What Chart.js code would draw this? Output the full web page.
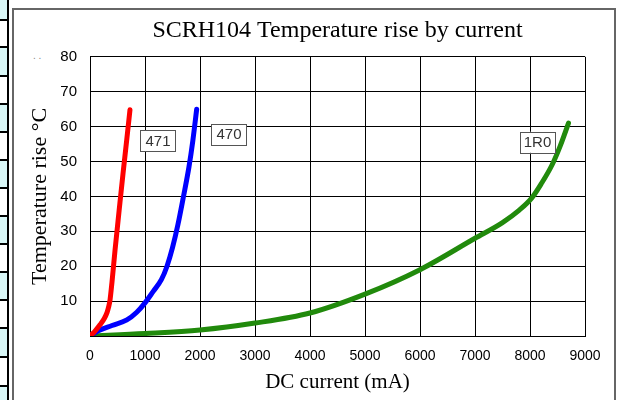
<!DOCTYPE html>
<html>
<head>
<meta charset="utf-8">
<script src="https://cdn.jsdelivr.net/npm/chart.js@4/dist/chart.umd.min.js"></script>
<style>
  html, body { margin: 0; padding: 0; background: #fff; }
  #wrap { position: relative; width: 621px; height: 400px; overflow: hidden; }
  #strip { position: absolute; left: 0; top: 0; width: 7px; height: 400px; border-right: 2px solid #000; }
  .cell { position: absolute; left: 0; width: 7px; border-bottom: 2px solid #000; }
  #frame { position: absolute; left: 12px; top: 8px; width: 600px; height: 420px; border: 2px solid #666; }
  #dots { position: absolute; left: 33px; top: 50px; font: 10px "Liberation Sans", Arial, sans-serif; color: #888; }
  canvas { position: absolute; left: 0; top: 0; }
</style>
</head>
<body>
<div id="wrap">
  <div id="strip"></div>
  <div id="frame"></div>
  <div id="dots">. .</div>
  <canvas id="chart" width="621" height="400"></canvas>
</div>
<script>
// curves: current in mA, temperature rise in °C
const current471 = [0, 80, 182, 260, 309, 340, 364, 400, 455, 530, 600, 670, 727];
const temp471    = [0, 1.2, 3.2, 5.0, 6.7, 8.4, 10.3, 15.5, 24.6, 36, 46.5, 56.5, 64.8];

const current470 = [0, 150, 400, 670, 850, 1000, 1150, 1300, 1400, 1500, 1600, 1700, 1800, 1870, 1940];
const temp470    = [0, 1.5, 3.0, 4.6, 6.8, 9.5, 12.8, 16.2, 20, 25.3, 32, 40, 48.5, 56, 65];

const current1R0 = [0, 1000, 2000, 3000, 4000, 5000, 6000, 7000, 7500, 7800, 8030, 8200, 8400, 8550, 8700];
const temp1R0    = [0, 0.7, 1.7, 3.7, 6.6, 12, 19, 28, 32.5, 36, 39.5, 43.5, 49, 54.5, 61];

// boxed curve names and where they sit (data units)
const tagText = ['471', '470', '1R0'];
const tagX = [1236, 2527, 8136];
const tagY = [55.9, 57.8, 55.5];

// striped edge on the left of the page
const strip = document.getElementById('strip');
const stripLines = [0, 21, 48, 77, 105, 133, 161, 189, 217, 245, 273, 301, 329, 358, 387, 415];
for (let i = 0; i < stripLines.length - 1; i++) {
    const c = document.createElement('div');
    c.className = 'cell';
    c.style.top = stripLines[i] + 'px';
    c.style.height = (stripLines[i + 1] - stripLines[i] - 2) + 'px';
    c.style.background = i % 2 === 0 ? '#d9f7f7' : '#ffffff';
    strip.appendChild(c);
}

function toPoints(xs, ys) {
    return xs.map((x, i) => ({ x: x, y: ys[i] }));
}

const tagPlugin = {
    id: 'tags',
    afterDatasetsDraw(chart) {
        const ctx = chart.ctx;
        const xs = chart.scales.x, ys = chart.scales.y;
        ctx.save();
        ctx.font = '15px "Liberation Sans", Arial, sans-serif';
        ctx.textAlign = 'center';
        ctx.textBaseline = 'middle';
        tagText.forEach((t, i) => {
            const cx = xs.getPixelForValue(tagX[i]);
            const cy = ys.getPixelForValue(tagY[i]);
            const w = 35, h = 21;
            ctx.fillStyle = '#fff';
            ctx.fillRect(cx - w / 2, cy - h / 2, w, h);
            ctx.strokeStyle = '#555';
            ctx.lineWidth = 1;
            ctx.strokeRect(Math.round(cx - w / 2) + 0.5, Math.round(cy - h / 2) + 0.5, w, h);
            ctx.fillStyle = '#333';
            ctx.fillText(t, cx, cy + 1);
        });
        ctx.restore();
    }
};

const lineStyle = { borderWidth: 5, pointRadius: 0, fill: false, showLine: true,
    cubicInterpolationMode: 'monotone', borderCapStyle: 'round', borderJoinStyle: 'round' };

const serif = '"Liberation Serif", "Times New Roman", serif';
const sans = '"Liberation Sans", Arial, sans-serif';

new Chart(document.getElementById('chart').getContext('2d'), {
    type: 'scatter',
    data: {
        datasets: [
            Object.assign({ label: '471', data: toPoints(current471, temp471), borderColor: '#ff0000' }, lineStyle),
            Object.assign({ label: '470', data: toPoints(current470, temp470), borderColor: '#0000ff' }, lineStyle),
            Object.assign({ label: '1R0', data: toPoints(current1R0, temp1R0), borderColor: '#218a0c' }, lineStyle)
        ]
    },
    options: {
        responsive: false,
        animation: false,
        layout: { padding: { left: 0, right: 36, top: 0, bottom: 0 } },
        plugins: {
            legend: { display: false },
            tooltip: { enabled: false },
            title: {
                display: true,
                fullSize: false, // centre over the plot area, not the whole canvas
                text: 'SCRH104 Temperature rise by current',
                color: '#000',
                font: { family: serif, size: 24, weight: 'normal' },
                padding: { top: 16, bottom: 12 }
            }
        },
        scales: {
            x: {
                type: 'linear',
                min: 0, max: 9000,
                ticks: { stepSize: 1000, color: '#000', padding: 12, maxRotation: 0,
                    font: { family: sans, size: 14 }, callback: v => String(v) },
                grid: { color: '#000', lineWidth: 1, drawTicks: false },
                border: { color: '#000', width: 1 },
                title: { display: true, text: 'DC current (mA)', color: '#000', padding: { top: 0, bottom: 5 },
                    font: { family: serif, size: 21 } },
                afterFit(scale) { scale.height = 64; }
            },
            y: {
                min: 0, max: 80,
                ticks: { stepSize: 10, color: '#000', padding: 13,
                    font: { family: sans, size: 15 },
                    callback: v => v === 0 ? '' : v },
                grid: { color: '#000', lineWidth: 1, drawTicks: false },
                border: { color: '#000', width: 1 },
                title: { display: true, text: 'Temperature rise °C', color: '#000', padding: { top: 27, bottom: 0 },
                    font: { family: serif, size: 22 } },
                afterFit(scale) { scale.width = 90; }
            }
        }
    },
    plugins: [tagPlugin]
});
</script>
</body>
</html>
